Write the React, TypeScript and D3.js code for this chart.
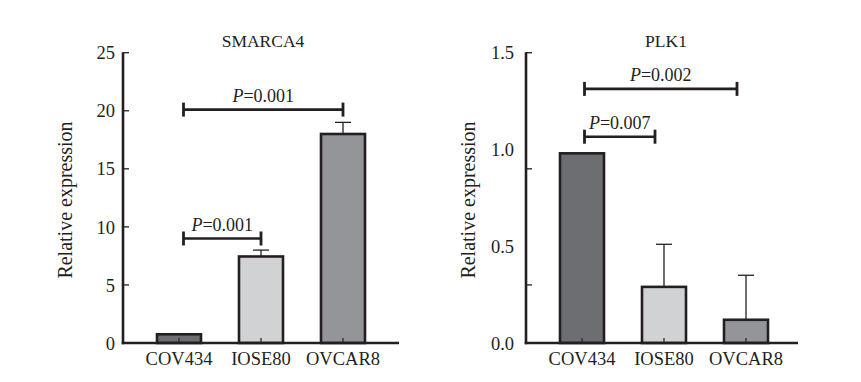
import React from "react";
import * as d3 from "d3";

const categories = ["COV434", "IOSE80", "OVCAR8"];

const smarcaValues = [0.75, 7.45, 18.0];
const smarcaErrors = [0, 0.55, 1.0];
const smarcaTicks = [0, 5, 10, 15, 20, 25];
const smarcaBrackets = [
  { from: 0, to: 2, y: 20.1, p: "0.001" },
  { from: 0, to: 1, y: 9.0, p: "0.001" },
];

const plkValues = [0.98, 0.29, 0.12];
const plkErrors = [0, 0.22, 0.23];
const plkTickLabels = [0, 0.5, 1.0, 1.5];
const plkTickMarks = [0.3, 0.9, 1.5];
const plkBrackets = [
  { from: 0, to: 2, y: 1.313, p: "0.002" },
  { from: 0, to: 1, y: 1.066, p: "0.007" },
];

const fills = ["#6d6e71", "#d1d2d4", "#939598"];
const ink = "#231f20";
const FONT = "'Liberation Serif', 'Times New Roman', serif";

type Bracket = { from: number; to: number; y: number; p: string };

function Panel(props: {
  title: string;
  axisX: number;
  axisEnd: number;
  yMax: number;
  yTop: number;
  values: number[];
  errors: number[];
  tickLabels: number[];
  tickMarks: number[];
  fmt: (v: number) => string;
  labelGap: number;
  brackets: Bracket[];
  bl: number;
  br: number;
}) {
  const y0 = 343;
  const y = d3.scaleLinear().domain([0, props.yMax]).range([y0, props.yTop]);
  const x = d3
    .scaleBand<string>()
    .domain(categories)
    .range([props.axisX + 15, props.axisX + 15 + 82 * 3])
    .padding(0);
  const bw = 44;
  const cx = (c: string) => (x(c) as number) + x.bandwidth() / 2;
  return (
    <g fontFamily={FONT} fill={ink}>
      <text x={cx(categories[1]) + 2} y={47} fontSize={17.5} textAnchor="middle">
        {props.title}
      </text>
      <text
        transform={`translate(${props.axisX - 51},${200}) rotate(-90)`}
        fontSize={20}
        textAnchor="middle"
      >
        Relative expression
      </text>
      {categories.map((c, i) => (
        <g key={c}>
          <line
            x1={cx(c)}
            x2={cx(c)}
            y1={y(props.values[i])}
            y2={y(props.values[i] + props.errors[i])}
            stroke={ink}
            strokeWidth={1.3}
          />
          {props.errors[i] > 0 && (
            <line
              x1={cx(c) - 8}
              x2={cx(c) + 8}
              y1={y(props.values[i] + props.errors[i])}
              y2={y(props.values[i] + props.errors[i])}
              stroke={ink}
              strokeWidth={1.3}
            />
          )}
          <rect
            x={cx(c) - bw / 2}
            y={y(props.values[i])}
            width={bw}
            height={y0 - y(props.values[i])}
            fill={fills[i]}
            stroke={ink}
            strokeWidth={2.6}
          />
          <line x1={cx(c)} x2={cx(c)} y1={y0} y2={y0 - 5} stroke={ink} strokeWidth={1.2} />
          <text x={cx(c)} y={365} fontSize={18.5} textAnchor="middle">
            {c}
          </text>
        </g>
      ))}
      <line x1={props.axisX} x2={props.axisX} y1={y(props.yMax) - 0.5} y2={y0 + 1.3} stroke={ink} strokeWidth={2.6} />
      <line x1={props.axisX - 1.3} x2={props.axisEnd} y1={y0} y2={y0} stroke={ink} strokeWidth={2.6} />
      {props.tickMarks.map((t) => (
        <line key={"m" + t} x1={props.axisX} x2={props.axisX + 6} y1={y(t)} y2={y(t)} stroke={ink} strokeWidth={1.3} />
      ))}
      {props.tickLabels.map((t) => (
        <text
          key={"l" + t}
          x={props.axisX - props.labelGap}
          y={y(t)}
          dy="0.36em"
          fontSize={18.5}
          textAnchor="end"
        >
          {props.fmt(t)}
        </text>
      ))}
      {props.brackets.map((b, k) => {
        const xa = cx(categories[b.from]) + props.bl;
        const xb = cx(categories[b.to]) + props.br;
        const yy = y(b.y);
        return (
          <g key={k}>
            <line x1={xa} x2={xb} y1={yy} y2={yy} stroke={ink} strokeWidth={2.6} />
            <line x1={xa} x2={xa} y1={yy - 7} y2={yy + 7} stroke={ink} strokeWidth={2.8} />
            <line x1={xb} x2={xb} y1={yy - 7} y2={yy + 7} stroke={ink} strokeWidth={2.8} />
            <text x={(xa + xb) / 2} y={yy - 7.5} fontSize={18} textAnchor="middle">
              <tspan fontStyle="italic">P</tspan>=0.{b.p.slice(2)}
            </text>
          </g>
        );
      })}
    </g>
  );
}

export default function App() {
  return (
    <svg
      width={861}
      height={382}
      style={{ position: "absolute", left: 0, top: 0, background: "#fff" }}
    >
      <rect width={861} height={382} fill="#fff" />
      <Panel
        title="SMARCA4"
        axisX={123}
        axisEnd={399}
        yMax={25}
        yTop={52.7}
        values={smarcaValues}
        errors={smarcaErrors}
        tickLabels={smarcaTicks}
        tickMarks={smarcaTicks}
        fmt={(v) => d3.format("d")(v)}
        labelGap={8}
        brackets={smarcaBrackets}
        bl={4.5}
        br={0}
      />
      <Panel
        title="PLK1"
        axisX={526}
        axisEnd={798}
        yMax={1.5}
        yTop={52.7}
        values={plkValues}
        errors={plkErrors}
        tickLabels={plkTickLabels}
        tickMarks={plkTickMarks}
        fmt={(v) => d3.format(".1f")(v)}
        labelGap={12}
        brackets={plkBrackets}
        bl={2.5}
        br={-9}
      />
    </svg>
  );
}
